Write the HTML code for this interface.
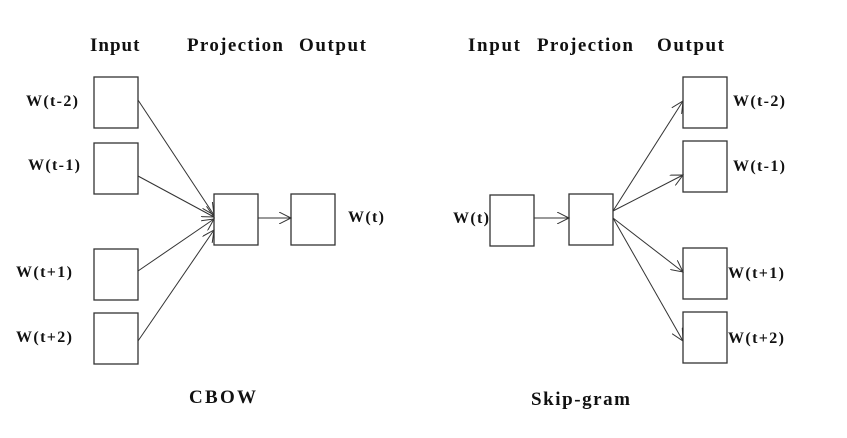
<!DOCTYPE html>
<html><head><style>body{margin:0;background:#fff}</style></head><body>
<svg width="847" height="433" xmlns="http://www.w3.org/2000/svg" font-family="Liberation Serif, serif" font-weight="bold">
<defs><marker id="a" markerWidth="14" markerHeight="12" refX="12" refY="6" orient="auto" markerUnits="userSpaceOnUse"><path d="M0,0 L12,6 L0,12" fill="none" stroke="#333" stroke-width="1"/></marker></defs>
<g fill="#fff" stroke="#333" stroke-width="1.3">
<rect x="94" y="77" width="44" height="51"/><rect x="94" y="143" width="44" height="51"/><rect x="94" y="249" width="44" height="51"/><rect x="94" y="313" width="44" height="51"/>
<rect x="214" y="194" width="44" height="51"/><rect x="291" y="194" width="44" height="51"/>
<rect x="490" y="195" width="44" height="51"/><rect x="569" y="194" width="44" height="51"/>
<rect x="683" y="77" width="44" height="51"/><rect x="683" y="141" width="44" height="51"/><rect x="683" y="248" width="44" height="51"/><rect x="683" y="312" width="44" height="51"/>
</g>
<g stroke="#333" stroke-width="1" marker-end="url(#a)">
<line x1="138" y1="100" x2="214" y2="215"/><line x1="138" y1="176" x2="214" y2="217"/><line x1="138" y1="271" x2="214" y2="219"/><line x1="138" y1="341" x2="214" y2="230"/>
<line x1="258" y1="218" x2="291" y2="218"/><line x1="534" y1="218" x2="569" y2="218"/>
<line x1="613" y1="211" x2="683" y2="101"/><line x1="613" y1="211" x2="683" y2="175"/><line x1="613" y1="218" x2="683" y2="272"/><line x1="613" y1="218" x2="683" y2="341"/>
</g>
<g font-size="19" fill="#111" letter-spacing="1">
<text x="90" y="51">Input</text><text x="187" y="51" textLength="97">Projection</text><text x="299" y="51" textLength="68">Output</text>
<text x="468" y="51" textLength="53">Input</text><text x="537" y="51" textLength="97">Projection</text><text x="657" y="51" textLength="68">Output</text>
<text x="189" y="403" textLength="68">CBOW</text><text x="531" y="405" textLength="100">Skip-gram</text>
</g>
<g font-size="16" fill="#111">
<text x="26" y="106" textLength="52">W(t-2)</text><text x="28" y="170" textLength="52">W(t-1)</text><text x="16" y="277" textLength="56">W(t+1)</text><text x="16" y="342" textLength="56">W(t+2)</text>
<text x="348" y="222" textLength="36">W(t)</text><text x="453" y="223" textLength="36">W(t)</text>
<text x="733" y="106" textLength="52">W(t-2)</text><text x="733" y="171" textLength="52">W(t-1)</text><text x="728" y="278" textLength="56">W(t+1)</text><text x="728" y="343" textLength="56">W(t+2)</text>
</g>
</svg>
</body></html>
